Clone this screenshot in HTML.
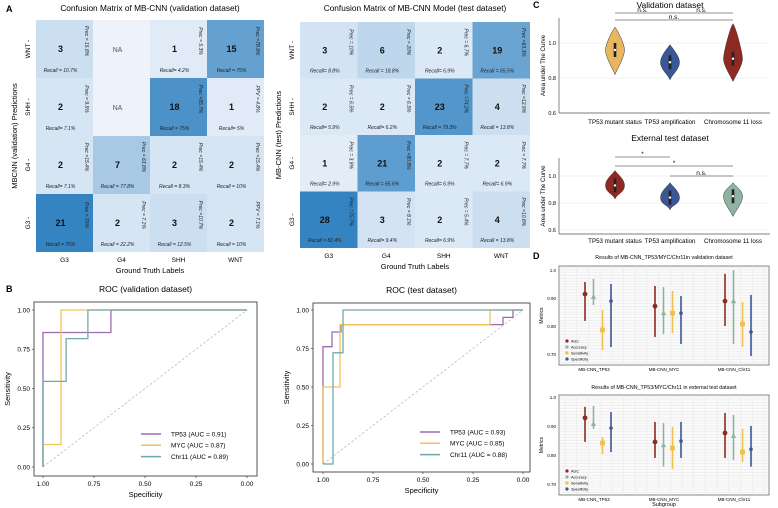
<!DOCTYPE html>
<html><head><meta charset="utf-8"><style>
body{margin:0;background:#fff}
svg{display:block;font-family:"Liberation Sans",Arial,sans-serif}
</style></head><body>
<svg id="fig" width="778" height="508" viewBox="0 0 778 508" xmlns="http://www.w3.org/2000/svg">
<g font-size="9" font-weight="bold" fill="#000">
<text x="6" y="12">A</text>
<text x="6" y="292">B</text>
<text x="533" y="8">C</text>
<text x="533" y="259">D</text>
</g>
</svg>
<script>
const NS="http://www.w3.org/2000/svg";
const svg=document.getElementById('fig');
function el(tag,attrs,parent,txt){const e=document.createElementNS(NS,tag);for(const k in attrs)e.setAttribute(k,attrs[k]);if(txt!==undefined)e.textContent=txt;(parent||svg).appendChild(e);return e;}

/* ---------- Confusion matrices data ---------- */
const cmRows=["WNT","SHH","G4","G3"];
const cmCols=["G3","G4","SHH","WNT"];
const valCounts=[[3,null,1,15],[2,null,18,1],[2,7,2,2],[21,2,3,2]];
const valPrec=[["Prec = 15.8%","","Prec = 5.3%","Prec =78.9%"],["Prec = 9.5%","","Prec =85.7%","PPV = 4.8%"],["Prec =15.4%","Prec = 63.8%","Prec =15.4%","Prec =15.4%"],["Prec = 75%","Prec = 7.1%","Prec =10.7%","PPV = 7.1%"]];
const valRecall=[["Recall = 10.7%","","Recall= 4.2%","Recall = 75%"],["Recall= 7.1%","","Recall = 75%","Recall= 5%"],["Recall= 7.1%","Recall = 77.8%","Recall = 8.3%","Recall = 10%"],["Recall = 75%","Recall = 22.2%","Recall = 12.5%","Recall = 10%"]];
const testCounts=[[3,6,2,19],[2,2,23,4],[1,21,2,2],[28,3,2,4]];
const testPrec=[["Prec = 10%","Prec = 20%","Prec = 6.7%","Prec =63.3%"],["Prec = 6.5%","Prec = 6.5%","Prec =74.2%","Prec =12.9%"],["Prec = 3.8%","Prec =80.8%","Prec = 7.7%","Prec = 7.7%"],["Prec =75.7%","Prec = 8.1%","Prec = 5.4%","Prec =10.8%"]];
const testRecall=[["Recall= 8.8%","Recall = 18.8%","Recall= 6.9%","Recall = 65.5%"],["Recall= 5.9%","Recall= 6.2%","Recall = 79.3%","Recall = 13.8%"],["Recall= 2.9%","Recall = 65.6%","Recall= 6.9%","Recall= 6.9%"],["Recall = 82.4%","Recall= 9.4%","Recall= 6.9%","Recall = 13.8%"]];

function cmColor(v,max){
  if(v===null)return "#eef2fb";
  const t=Math.pow(v/max,0.9);
  const a=[236,242,251],b=[52,132,194];
  return "rgb("+a.map((c,i)=>Math.round(c+(b[i]-c)*t)).join(",")+")";
}
function drawCM(opt){
  const g=el('g',{});
  
  
  const t=el('text',{x:(opt.x0+opt.x0+4*opt.cw)/2,y:opt.titleY,'text-anchor':'middle','font-size':'8.3'},g,opt.title);
  
  let max=0;opt.counts.forEach(r=>r.forEach(v=>{if(v!==null&&v>max)max=v;}));
  opt.counts.forEach((row,r)=>row.forEach((v,c)=>{
    const x=opt.x0+c*opt.cw,y=opt.y0+r*opt.ch;
    const rect=el('rect',{x:x,y:y,width:opt.cw,height:opt.ch,fill:cmColor(v,max)},g);
    
    const cx=x+opt.cw/2-4,cy=y+opt.ch/2;
    const n=el('text',{x:cx,y:cy+3,'text-anchor':'middle','font-size':'9','font-weight':'bold',fill:v===null?'#555':'#111'},g,v===null?'NA':String(v));
    if(v===null){n.setAttribute('font-weight','normal');n.setAttribute('font-size','7');}
    
    if(opt.prec[r][c]){
      const px=x+opt.cw-8,py=y+opt.ch/2-8;
      const p=el('text',{x:px,y:py,'text-anchor':'middle','font-size':'5','font-style':'italic',fill:'#222',transform:'rotate(90 '+px+' '+py+')'},g,opt.prec[r][c]);
      
      const rc=el('text',{x:cx,y:y+opt.ch-6,'text-anchor':'middle','font-size':'5','font-style':'italic',fill:'#222'},g,opt.recall[r][c]);
      
    }
  }));
  opt.rows.forEach((lab,r)=>{
    const y=opt.y0+r*opt.ch+opt.ch/2,x=opt.x0-6;
    const tt=el('text',{x:x,y:y,'text-anchor':'middle','font-size':'6.5',transform:'rotate(-90 '+x+' '+y+')'},g,lab+' -');
    
  });
  opt.cols.forEach((lab,c)=>{
    const tt=el('text',{x:opt.x0+c*opt.cw+opt.cw/2,y:opt.y0+4*opt.ch+10,'text-anchor':'middle','font-size':'6.5'},g,lab);
    
  });
  const xl=el('text',{x:opt.x0+2*opt.cw,y:opt.y0+4*opt.ch+21,'text-anchor':'middle','font-size':'7.5'},g,'Ground Truth Labels');
  
  const yx=opt.x0-19,yy=opt.y0+2*opt.ch;
  const yl=el('text',{x:yx,y:yy,'text-anchor':'middle','font-size':'7.5',transform:'rotate(-90 '+yx+' '+yy+')'},g,opt.ylab);
  
}
drawCM({name:'confusion-matrix-validation',x0:36,y0:20,cw:57,ch:58,titleY:11,title:'Confusion Matrix of MB-CNN (validation dataset)',rows:cmRows,cols:cmCols,counts:valCounts,prec:valPrec,recall:valRecall,ylab:'MBCNN (validation) Predictions'});
drawCM({name:'confusion-matrix-test',x0:300,y0:22,cw:57.5,ch:56.5,titleY:11,title:'Confusion Matrix of MB-CNN Model (test dataset)',rows:cmRows,cols:cmCols,counts:testCounts,prec:testPrec,recall:testRecall,ylab:'MB-CNN (test) Predictions'});

/* ---------- ROC data ---------- */
const rocNames=["TP53 (AUC = 0.91)","MYC  (AUC = 0.87)","Chr11 (AUC = 0.89)"];
const rocNamesTest=["TP53 (AUC = 0.93)","MYC  (AUC = 0.85)","Chr11 (AUC = 0.88)"];
const rocColors=["#9b6bb2","#f3c257","#6fa9ac"];
const valTP53Spec=[1,1,0.667,0.667,0];
const valTP53Sens=[0,0.857,0.857,1,1];
const valMYCSpec=[1,1,0.912,0.912,0];
const valMYCSens=[0,0.143,0.143,1,1];
const valChrSpec=[1,1,0.887,0.887,0.78,0.78,0];
const valChrSens=[0,0.545,0.545,0.818,0.818,1,1];
const testTP53Spec=[1,1,0.955,0.955,0.91,0.91,0.1,0.1,0.05,0.05,0];
const testTP53Sens=[0,0.762,0.762,0.857,0.857,0.905,0.905,0.952,0.952,1,1];
const testMYCSpec=[1,1,0.915,0.915,0.165,0.165,0];
const testMYCSens=[0,0.5,0.5,0.905,0.905,1,1];
const testChrSpec=[1,0.95,0.95,0.9,0.9,0];
const testChrSens=[0,0,0.722,0.722,1,1];
const rocTicks=[1,0.75,0.5,0.25,0];
const rocTickLabels=["1.00","0.75","0.50","0.25","0.00"];

function drawROC(o){
  const g=el('g',{});
  
  const sx=s=>o.xa+(1-s)*(o.xb-o.xa), sy=v=>o.ya-v*(o.ya-o.yb);
  const t=el('text',{x:(o.bx0+o.bx1)/2,y:o.titleY,'text-anchor':'middle','font-size':'8.5'},g,o.title);
  
  const box=el('rect',{x:o.bx0,y:o.by0,width:o.bx1-o.bx0,height:o.by1-o.by0,fill:'none',stroke:'#444','stroke-width':'0.9'},g);
  
  rocTicks.forEach((tv,i)=>{
    el('line',{x1:sx(tv),x2:sx(tv),y1:o.by1,y2:o.by1+2,stroke:'#444','stroke-width':'0.7'},g);
    const xt=el('text',{x:sx(tv),y:o.by1+10,'text-anchor':'middle','font-size':'6.5'},g,rocTickLabels[i]);
    
    el('line',{x1:o.bx0-2,x2:o.bx0,y1:sy(tv),y2:sy(tv),stroke:'#444','stroke-width':'0.7'},g);
    const yt=el('text',{x:o.bx0-4,y:sy(tv)+2.3,'text-anchor':'end','font-size':'6.5'},g,rocTickLabels[i]);
    
  });
  const d=el('line',{x1:sx(1),y1:sy(0),x2:sx(0),y2:sy(1),stroke:'#bbb','stroke-width':'0.8','stroke-dasharray':'2.5,2'},g);
  
  o.series.forEach((s,i)=>{
    const pts=s[0].map((sp,j)=>sx(sp).toFixed(1)+','+sy(s[1][j]).toFixed(1)).join(' ');
    const p=el('polyline',{points:pts,fill:'none',stroke:rocColors[i],'stroke-width':'1.3'},g);
    
    const ly=o.legY+i*11.3;
    const ll=el('line',{x1:o.legX,x2:o.legX+20,y1:ly,y2:ly,stroke:rocColors[i],'stroke-width':'1.5'},g);
    
    const lt=el('text',{x:o.legX+30,y:ly+2.3,'font-size':'6.5'},g,o.names[i]);
    
  });
  const xl=el('text',{x:(o.bx0+o.bx1)/2,y:o.by1+21,'text-anchor':'middle','font-size':'7.5'},g,'Specificity');
  
  const yx=o.bx0-24,yy=(o.by0+o.by1)/2;
  const yl=el('text',{x:yx,y:yy,'text-anchor':'middle','font-size':'7.5',transform:'rotate(-90 '+yx+' '+yy+')'},g,'Sensitivity');
  
}
drawROC({name:'roc-validation',title:'ROC (validation dataset)',titleY:292,bx0:34,bx1:257,by0:302,by1:476,xa:43,xb:247,ya:467,yb:310,legX:141,legY:434,names:rocNames,
  series:[[valTP53Spec,valTP53Sens],[valMYCSpec,valMYCSens],[valChrSpec,valChrSens]]});
drawROC({name:'roc-test',title:'ROC (test dataset)',titleY:293,bx0:313,bx1:530,by0:303,by1:472,xa:323,xb:523,ya:464,yb:310,legX:420,legY:432,names:rocNamesTest,
  series:[[testTP53Spec,testTP53Sens],[testMYCSpec,testMYCSens],[testChrSpec,testChrSens]]});

/* ---------- Violin data ---------- */
const violinCats=["TP53 mutant status","TP53 amplification","Chromosome 11 loss"];
const valViolinTop=[1.09,0.99,1.11];
const valViolinBottom=[0.82,0.79,0.78];
const valViolinMedian=[0.96,0.89,0.91];
const valViolinColors=["#e9b660","#3b5795","#8f2a22"];
const testViolinTop=[1.04,0.95,0.95];
const testViolinBottom=[0.83,0.75,0.70];
const testViolinMedian=[0.93,0.84,0.85];
const testViolinColors=["#8f2a22","#3b5795","#8fb3a3"];
const violinTicks=[0.6,0.8,1.0];
const violinTickLabels=["0.6","0.8","1.0"];

function drawViolin(o){
  const g=el('g',{});
  
  const sy=v=>o.y1-(v-1)*o.k;
  const cx=[615,670,733];
  const t=el('text',{x:670,y:o.titleY,'text-anchor':'middle','font-size':'8.5'},g,o.title);
  
  violinTicks.forEach((tv,i)=>{
    const gl=el('line',{x1:559,x2:768,y1:sy(tv),y2:sy(tv),stroke:'#e4e4e4','stroke-width':'0.6'},g);
    
    const yt=el('text',{x:556,y:sy(tv)+2,'text-anchor':'end','font-size':'5.5'},g,violinTickLabels[i]);
    
  });
  el('line',{x1:559,x2:559,y1:o.axTop,y2:o.axBot,stroke:'#555','stroke-width':'0.7'},g);
  el('line',{x1:559,x2:770,y1:o.axBot,y2:o.axBot,stroke:'#555','stroke-width':'0.7'},g);
  o.cats.forEach((c,i)=>{
    const top=sy(o.top[i]),bot=sy(o.bottom[i]),med=sy(o.median[i]);
    const w=9.5,x=cx[i];
    const d='M'+x+','+top+' C'+(x+3)+','+(top+4)+' '+(x+w)+','+(med-6)+' '+(x+w)+','+med+' C'+(x+w)+','+(med+7)+' '+(x+2)+','+(bot-5)+' '+x+','+bot+
      ' C'+(x-2)+','+(bot-5)+' '+(x-w)+','+(med+7)+' '+(x-w)+','+med+' C'+(x-w)+','+(med-6)+' '+(x-3)+','+(top+4)+' '+x+','+top+'Z';
    const p=el('path',{d:d,fill:o.colors[i],stroke:'#333','stroke-width':'0.5'},g);
    
    el('rect',{x:x-1.3,y:med-7,width:2.6,height:14,fill:'#222'},g);
    el('circle',{cx:x,cy:med,r:1.2,fill:'#fff'},g);
    const lt=el('text',{x:x,y:o.labY,'text-anchor':'middle','font-size':'6.2'},g,c);
    
  });
  o.sig.forEach(s=>{
    const l=el('line',{x1:cx[s[0]],x2:cx[s[1]],y1:s[2],y2:s[2],stroke:'#222','stroke-width':'0.6'},g);
    
    const tx=el('text',{x:(cx[s[0]]+cx[s[1]])/2,y:s[2]-1.2,'text-anchor':'middle','font-size':'6.5'},g,s[3]);
    
  });
  const yx=545,yy=(o.axTop+o.axBot)/2;
  const yl=el('text',{x:yx,y:yy,'text-anchor':'middle','font-size':'6.2',transform:'rotate(-90 '+yx+' '+yy+')'},g,'Area under The Curve');
  
}
drawViolin({name:'violin-validation',title:'Validation dataset',titleY:8,y1:43,k:175,axTop:18,axBot:113,labY:124,cats:violinCats,top:valViolinTop,bottom:valViolinBottom,median:valViolinMedian,colors:valViolinColors,
  sig:[[0,1,13,'n.s.'],[1,2,13,'n.s.'],[0,2,20,'n.s.']]});
drawViolin({name:'violin-test',title:'External test dataset',titleY:141,y1:176,k:135,axTop:158,axBot:234,labY:243,cats:violinCats,top:testViolinTop,bottom:testViolinBottom,median:testViolinMedian,colors:testViolinColors,
  sig:[[0,1,157,'*'],[0,2,166,'*'],[1,2,176,'n.s.']]});

/* ---------- Metrics (panel D) data ---------- */
const dGroups=["MB-CNN_TP53","MB-CNN_MYC","MB-CNN_Chr11"];
const dMetrics=["AUC","Accuracy","Sensitivity","Specificity"];
const dColors=["#8f2a22","#8fb3a3","#f0c04c","#3b5795"];
const valMid=[[0.914,0.904,0.786,0.889],[0.871,0.846,0.846,0.846],[0.889,0.889,0.807,0.779]];
const valLo=[[0.818,0.875,0.714,0.725],[0.761,0.771,0.775,0.736],[0.80,0.736,0.725,0.693]];
const valHi=[[0.957,0.968,0.857,0.95],[0.943,0.939,0.925,0.907],[0.986,1.0,0.886,0.911]];
const testMid=[[0.928,0.907,0.841,0.893],[0.845,0.834,0.824,0.848],[0.876,0.866,0.81,0.82]];
const testLo=[[0.845,0.89,0.803,0.81],[0.79,0.76,0.752,0.79],[0.79,0.783,0.776,0.76]];
const testHi=[[0.966,0.969,0.862,0.948],[0.914,0.91,0.897,0.914],[0.945,0.938,0.89,0.9]];
const dTicks=[0.7,0.8,0.9,1.0];
const dTickLabels=["0.70","0.80","0.90","1.0"];

function drawMetrics(o){
  const g=el('g',{});
  
  const sy=v=>o.y9-(v-0.9)*o.k;
  const gx=[598,668,738],off=[-13,-4.5,4.5,13];
  const t=el('text',{x:664,y:o.titleY,'text-anchor':'middle','font-size':'5.3'},g,o.title);
  
  el('rect',{x:559,y:o.top,width:210,height:o.bot-o.top,fill:'#fafafa',stroke:'#555','stroke-width':'0.7'},g);
  for(let v=0.66;v<=1.02;v+=0.01){const y=sy(v);if(y>o.top&&y<o.bot)el('line',{x1:559,x2:769,y1:y,y2:y,stroke:'#e2e2e2','stroke-width':'0.4'},g);}
  for(let x=565;x<769;x+=11.7)el('line',{x1:x,x2:x,y1:o.top,y2:o.bot,stroke:'#e2e2e2','stroke-width':'0.4'},g);
  dTicks.forEach((tv,i)=>{
    const yt=el('text',{x:556,y:sy(tv)+1.8,'text-anchor':'end','font-size':'4.5'},g,dTickLabels[i]);
    
  });
  dGroups.forEach((gn,gi)=>{
    const lt=el('text',{x:gx[gi]-4,y:o.bot+6,'text-anchor':'middle','font-size':'4.5'},g,gn);
    
    dMetrics.forEach((m,mi)=>{
      const x=gx[gi]+off[mi];
      const eb=el('line',{x1:x,x2:x,y1:sy(o.hi[gi][mi]),y2:sy(o.lo[gi][mi]),stroke:dColors[mi],'stroke-width':'1.6'},g);
      
      const y=sy(o.mid[gi][mi]);
      let pt;
      if(mi===0||mi===3)pt=el('circle',{cx:x,cy:y,r:mi===0?2.4:1.8,fill:dColors[mi]},g);
      else if(mi===1)pt=el('path',{d:'M'+x+','+(y-2.7)+' L'+(x+2.7)+','+(y+2)+' L'+(x-2.7)+','+(y+2)+'Z',fill:dColors[mi]},g);
      else pt=el('rect',{x:x-2.4,y:y-2.4,width:4.8,height:4.8,fill:dColors[mi]},g);
      
    });
  });
  dMetrics.forEach((m,mi)=>{
    const y=o.legY+mi*6;
    el('circle',{cx:567,cy:y,r:1.6,fill:dColors[mi]},g);
    const lt=el('text',{x:571,y:y+1.5,'font-size':'3.8'},g,m);
    
  });
  const yx=543,yy=(o.top+o.bot)/2;
  const yl=el('text',{x:yx,y:yy,'text-anchor':'middle','font-size':'5',transform:'rotate(-90 '+yx+' '+yy+')'},g,'Metrics');
  
}
drawMetrics({name:'metrics-validation',title:'Results of MB-CNN_TP53/MYC/Chr11in validation dataset',titleY:259,top:266,bot:365,y9:298,k:280,legY:341,mid:valMid,lo:valLo,hi:valHi});
drawMetrics({name:'metrics-test',title:'Results of MB-CNN_TP53/MYC/Chr11 in external test dataset',titleY:389,top:395,bot:495,y9:426,k:290,legY:471,mid:testMid,lo:testLo,hi:testHi});
const sg=el('text',{x:664,y:506,'text-anchor':'middle','font-size':'5.5'},svg,'Subgroup');


</script>
</body></html>
